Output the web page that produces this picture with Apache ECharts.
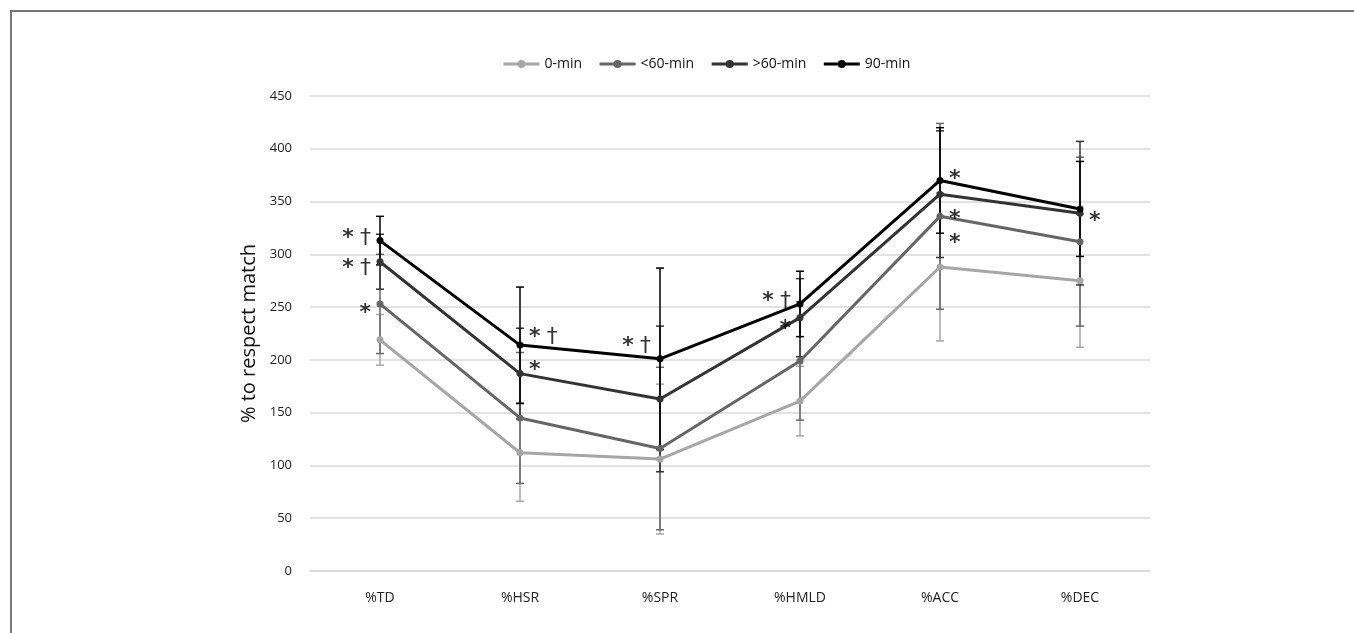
<!DOCTYPE html>
<html>
<head>
<meta charset="utf-8">
<script src="https://cdn.jsdelivr.net/npm/echarts@6/dist/echarts.min.js"></script>
<style>
  html, body { margin: 0; padding: 0; background: #fff; }
  #frame { position: absolute; left: 10px; top: 10px; width: 1344px; height: 640px;
           border-top: 2px solid #777; border-left: 2px solid #777; box-sizing: border-box; }
  #chart { position: absolute; left: 0; top: 0; width: 1354px; height: 633px; }
</style>
</head>
<body>
<div id="frame"></div>
<div id="chart"></div>
<script>
const categories = ['%TD', '%HSR', '%SPR', '%HMLD', '%ACC', '%DEC'];
const seriesNames = ['0-min', '<60-min', '>60-min', '90-min'];

// means
const min0 = [219, 112, 106, 161, 288, 275];
const minLt60 = [253, 145, 116, 199, 336, 312];
const minGt60 = [293, 187, 163, 240, 357, 339];
const min90 = [313, 214, 201, 253, 370, 343];

// SD (error bars)
const sd0 = [24, 46, 71, 33, 70, 63];
const sdLt60 = [47, 62, 77, 56, 88, 80];
const sdGt60 = [26, 43, 69, 37, 60, 68];
const sd90 = [23, 55, 86, 31, 50, 45];

// significance marks
const noteCats = ['%TD', '%TD', '%TD', '%HSR', '%HSR', '%SPR', '%HMLD', '%HMLD', '%ACC', '%ACC', '%ACC', '%DEC'];
const noteValues = [321, 292, 250, 227, 196, 219, 261, 235, 377, 339, 316, 337];
const noteTexts = ['* †', '* †', '*', '* †', '*', '* †', '* †', '*', '*', '*', '*', '*'];
const noteSides = ['L', 'L', 'L', 'R', 'R', 'L', 'L', 'L', 'R', 'R', 'R', 'R'];

const yTicks = [0, 450, 50];

const colors = ['#a6a6a6', '#666666', '#333333', '#000000'];
const means = [min0, minLt60, minGt60, min90];
const sds = [sd0, sdLt60, sdGt60, sd90];

const chart = echarts.init(document.getElementById('chart'));

const lineSeries = seriesNames.map((name, i) => ({
  name,
  type: 'line',
  data: means[i],
  z: 5 + i,
  symbol: 'circle',
  symbolSize: 7,
  itemStyle: { color: colors[i] },
  lineStyle: { width: 3, color: colors[i] },
}));

const errSeries = seriesNames.map((name, i) => ({
  name: name + '-err',
  type: 'custom',
  z: 2 + i * 0.1,
  silent: true,
  data: means[i].map((m, j) => [j, m - sds[i][j], m + sds[i][j]]),
  renderItem: (params, api) => {
    const lo = api.coord([api.value(0), api.value(1)]);
    const hi = api.coord([api.value(0), api.value(2)]);
    const w = 4;
    const st = { stroke: colors[i], lineWidth: 1.5 };
    return {
      type: 'group',
      children: [
        { type: 'line', shape: { x1: lo[0], y1: lo[1], x2: hi[0], y2: hi[1] }, style: st },
        { type: 'line', shape: { x1: lo[0] - w, y1: lo[1], x2: lo[0] + w, y2: lo[1] }, style: st },
        { type: 'line', shape: { x1: hi[0] - w, y1: hi[1], x2: hi[0] + w, y2: hi[1] }, style: st },
      ],
    };
  },
}));

// asterisk bold, dagger regular
const markup = (t) => t.split(' ').map((s) => (s === '*' ? '{a|*}' : '{d|' + s + '}')).join('{sp| }');

const noteSeries = {
  name: 'notes',
  type: 'scatter',
  silent: true,
  symbolSize: 0,
  z: 10,
  data: noteCats.map((c, k) => ({
    value: [c, noteValues[k]],
    label: {
      show: true,
      formatter: markup(noteTexts[k]),
      position: 'inside',
      align: noteSides[k] === 'L' ? 'right' : 'left',
      offset: [noteSides[k] === 'L' ? -9 : 9, 6],
      rich: {
        a: { fontSize: 22, fontWeight: 'bold', fontFamily: 'DejaVu Sans', color: '#000' },
        d: { fontSize: 22, fontFamily: 'DejaVu Sans', color: '#000' },
        sp: { fontSize: 20, fontFamily: 'DejaVu Sans' },
      },
    },
  })),
};

chart.setOption({
  animation: false,
  textStyle: { fontFamily: 'Open Sans' },
  legend: {
    data: seriesNames,
    top: 52,
    left: 497,
    itemWidth: 36,
    itemHeight: 10,
    itemGap: 16,
    lineStyle: { width: 3 },
    textStyle: { fontSize: 14, color: '#111', fontFamily: 'Open Sans' },
  },
  grid: { left: 310, right: 204, top: 96, bottom: 62, containLabel: false },
  xAxis: {
    type: 'category',
    data: categories,
    axisLine: { lineStyle: { color: '#d9d9d9', width: 1.5 } },
    axisTick: { show: false },
    axisLabel: { color: '#222', fontSize: 14, margin: 20 },
  },
  yAxis: {
    type: 'value',
    min: yTicks[0],
    max: yTicks[1],
    interval: yTicks[2],
    name: '% to respect match',
    nameLocation: 'middle',
    nameGap: 45,
    nameTextStyle: { fontSize: 20, color: '#111' },
    axisLine: { show: false },
    axisTick: { show: false },
    axisLabel: { color: '#222', fontSize: 13, margin: 18 },
    splitLine: { lineStyle: { color: '#d9d9d9', width: 1.5 } },
  },
  series: [...errSeries, ...lineSeries, noteSeries],
});
</script>
</body>
</html>
